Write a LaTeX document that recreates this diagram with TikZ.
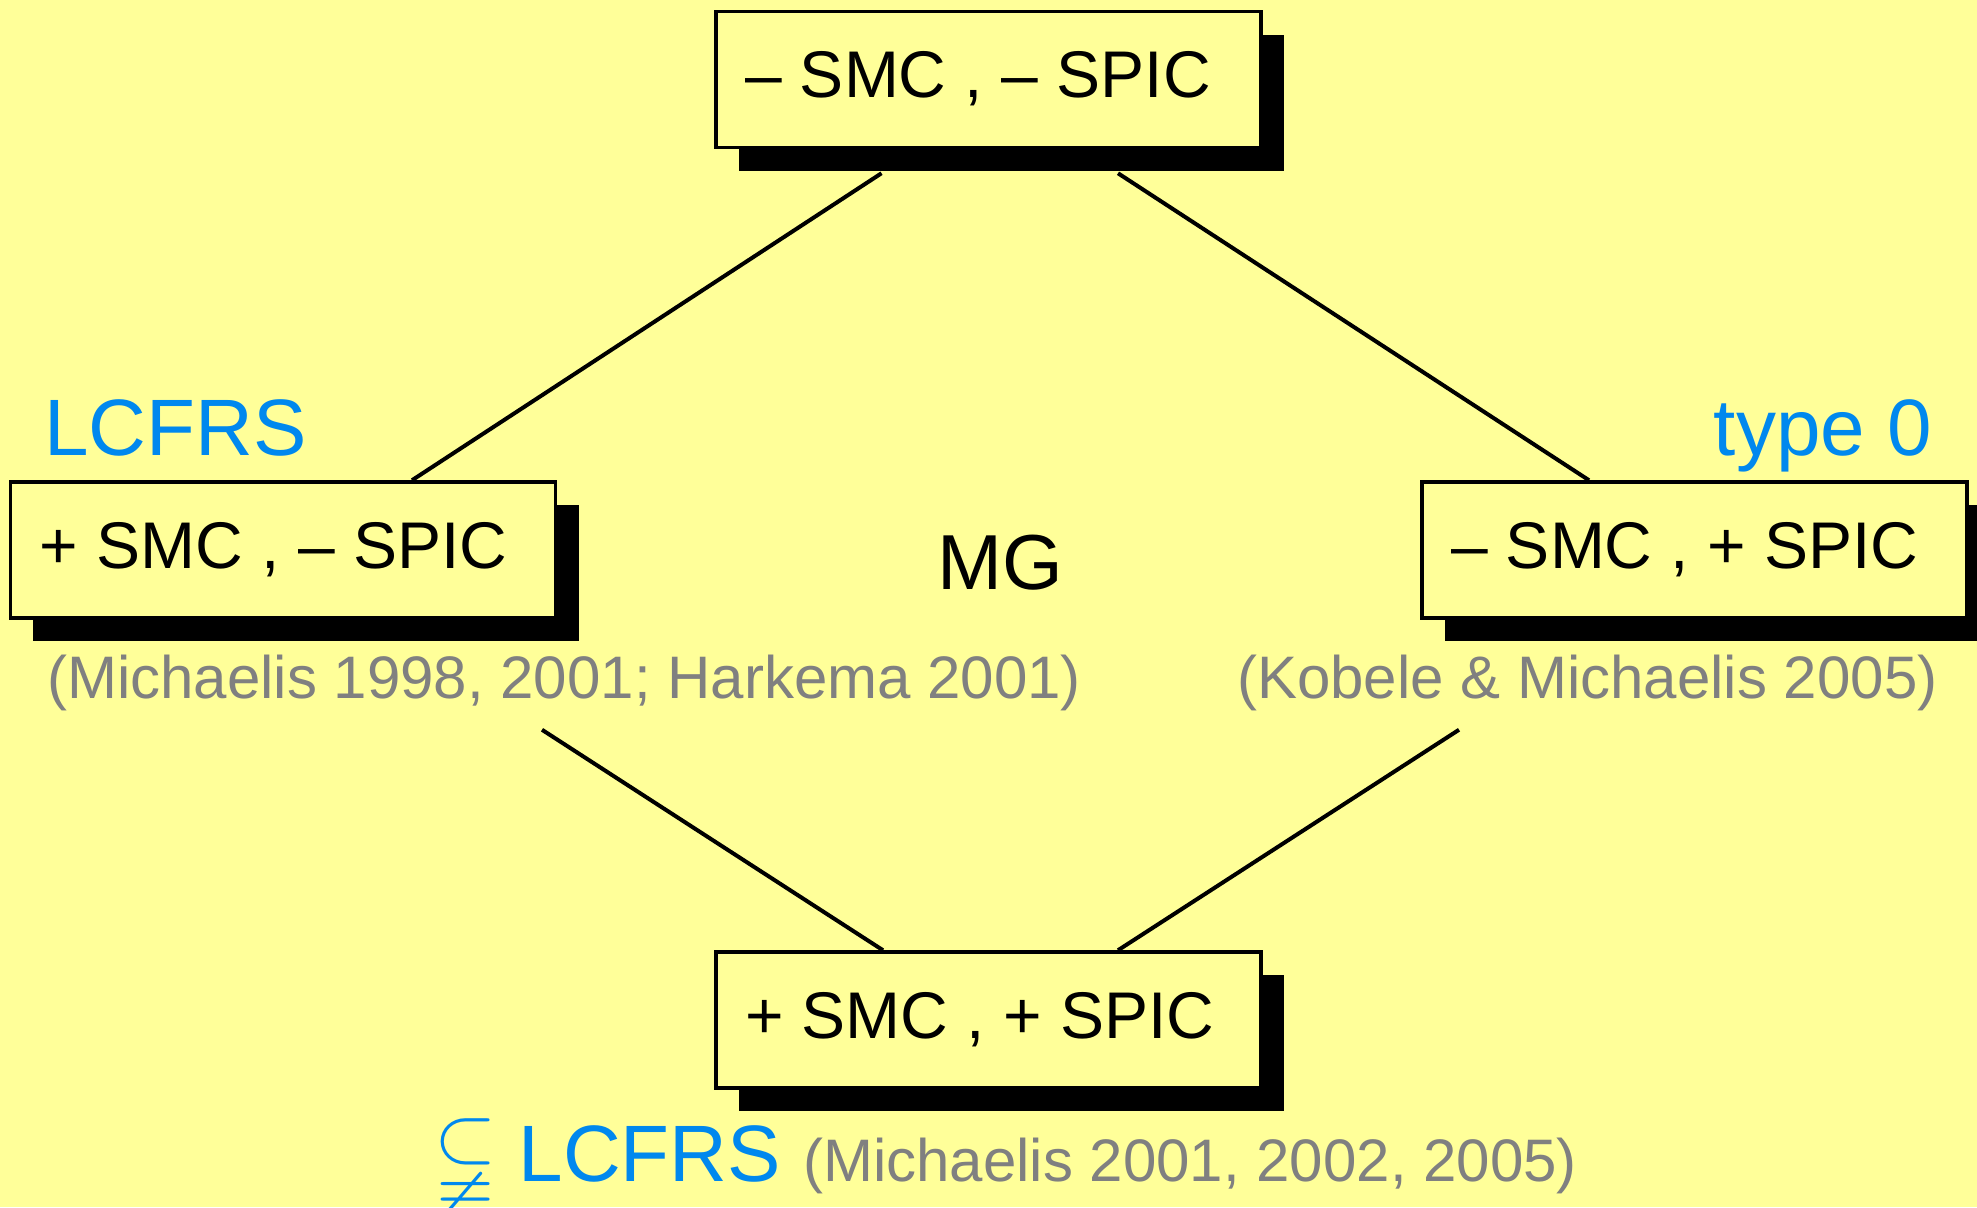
\documentclass[tikz,border=0pt]{standalone}
\usepackage{fontspec}
\setmainfont{Liberation Sans}
\usepackage{amssymb}
\usetikzlibrary{shadows}
\definecolor{paper}{RGB}{255,255,153}
\definecolor{tagblue}{RGB}{0,136,238}
\definecolor{citegrey}{RGB}{128,128,128}
\newcommand{\boxline}[1]{\makebox[487bp][l]{#1}}
\tikzset{
  featbox/.style={draw=black, line width=3.5bp, fill=paper,
    drop shadow={shadow xshift=23bp, shadow yshift=-23bp, fill=black, opacity=1},
    inner xsep=29bp, inner ysep=0pt,
    text height=86bp, text depth=50bp,
    font=\fontsize{66bp}{80bp}\selectfont},
  tag/.style={text=tagblue, inner sep=0pt, font=\fontsize{80bp}{90bp}\selectfont},
  cite/.style={text=citegrey, inner sep=0pt, anchor=base west, font=\fontsize{60bp}{70bp}\selectfont},
  conn/.style={draw=black, line width=4bp}
}
\begin{document}
\begin{tikzpicture}[x=1bp, y=-1bp]
  \fill[paper] (0,0) rectangle (1977,1207);
  \useasboundingbox (0,0) rectangle (1977,1207);

  % the four feature combinations
  \node[featbox] (top)  at (988.5,79.5) {\boxline{– SMC , – SPIC}};
  \node[featbox] (lbox) at (283,550)    {\boxline{+ SMC , – SPIC}};
  \node[featbox] (rbox) at (1694.5,550) {\boxline{– SMC , + SPIC}};
  \node[featbox] (bot)  at (988.5,1020) {\boxline{+ SMC , + SPIC}};

  % class labels
  \node[tag, anchor=base west] (lcfrs) at (44,455) {LCFRS};
  \node[tag, anchor=base east] (type0) at (1932,455) {type 0};
  \node[inner sep=0pt, anchor=base west, font=\fontsize{78bp}{90bp}\selectfont] (mg) at (937,589) {MG};

  % references
  \node[cite] (lcite) at (47,698) {(Michaelis 1998, 2001; Harkema 2001)};
  \node[cite] (rcite) at (1237,698) {(Kobele \& Michaelis 2005)};
  \node[inner sep=0pt, anchor=base west, font=\fontsize{80bp}{90bp}\selectfont] (bcite) at (434,1181)
    {{\color{tagblue}$\subsetneqq$ LCFRS} {\color{citegrey}\fontsize{60bp}{70bp}\selectfont (Michaelis 2001, 2002, 2005)}};

  % lattice edges
  \draw[conn] ([xshift=-107bp,yshift=-24bp]top.south) -- ([xshift=129bp]lbox.north);
  \draw[conn] ([xshift=129.5bp,yshift=-24bp]top.south) -- ([xshift=-105.5bp]rbox.north);
  \draw[conn] ([xshift=259bp,yshift=-110bp]lbox.south) -- ([xshift=-105.5bp]bot.north);
  \draw[conn] ([xshift=-235.5bp,yshift=-110bp]rbox.south) -- ([xshift=129.5bp]bot.north);
\end{tikzpicture}
\end{document}
